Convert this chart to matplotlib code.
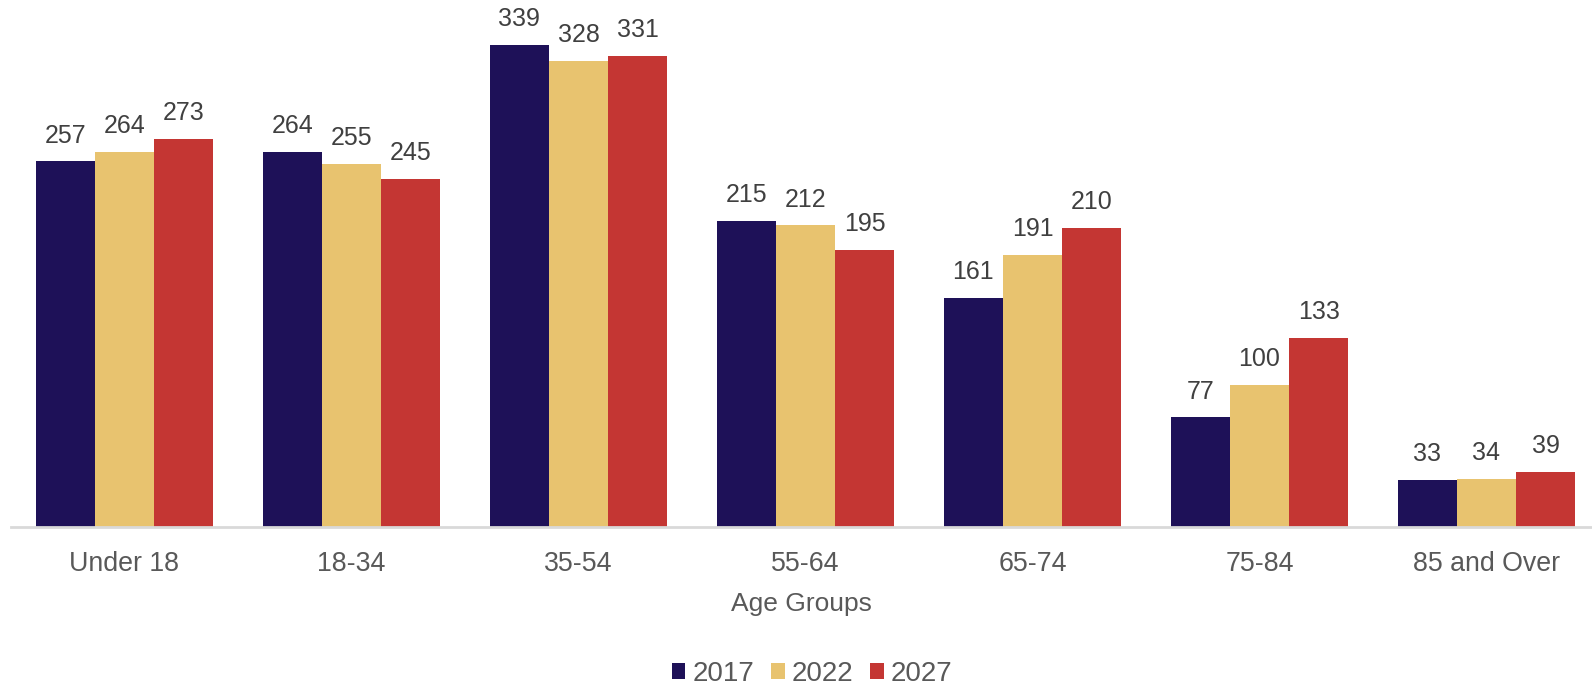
import matplotlib
matplotlib.use("Agg")
import matplotlib.pyplot as plt
import numpy as np
from matplotlib.patches import Patch

plt.rcParams['font.family'] = ['Liberation Sans', 'DejaVu Sans']

categories = ["Under 18", "18-34", "35-54", "55-64", "65-74", "75-84", "85 and Over"]
years = ["2017", "2022", "2027"]
values_2017 = [257, 264, 339, 215, 161, 77, 33]
values_2022 = [264, 255, 328, 212, 191, 100, 34]
values_2027 = [273, 245, 331, 195, 210, 133, 39]

colors = ["#1E1158", "#E8C36F", "#C43633"]
series = [values_2017, values_2022, values_2027]

fig = plt.figure(figsize=(15.92, 6.87), dpi=100)
ax = fig.add_axes([11 / 1592, 1 - 527 / 687, 1 - 11 / 1592, (527 - 15) / 687])

x = np.arange(len(categories))
w = 0.261
for i, (vals, col) in enumerate(zip(series, colors)):
    pos = x + (i - 1) * w
    bars = ax.bar(pos, vals, width=w, color=col, edgecolor="none")
    for b, v in zip(bars, vals):
        ax.annotate(str(v), (b.get_x() + b.get_width() / 2, v),
                    xytext=(0, 10), textcoords="offset points",
                    ha="center", va="bottom", fontsize=18, color="#404040")

ax.set_xlim(-0.5, 6.465)
ax.set_ylim(0, 360)
ax.set_yticks([])
for s in ["top", "right", "left"]:
    ax.spines[s].set_visible(False)
ax.spines["bottom"].set_color("#D9D9D9")
ax.spines["bottom"].set_linewidth(2)
ax.set_xticks(x)
ax.set_xticklabels(categories, fontsize=19.3, color="#595959")
ax.tick_params(axis="x", length=0, pad=17)
ax.set_xlabel("Age Groups", fontsize=19, color="#595959", labelpad=11)

handles = [Patch(facecolor=c, edgecolor="none") for c in colors]
fig.legend(handles, years, loc="center", bbox_to_anchor=(812 / 1592, 1 - 674 / 687),
           ncol=3, frameon=False, fontsize=20, labelcolor="#595959",
           handlelength=0.5, handleheight=0.5, handletextpad=0.25, columnspacing=0.6)

fig.savefig("out.png", dpi=100)
